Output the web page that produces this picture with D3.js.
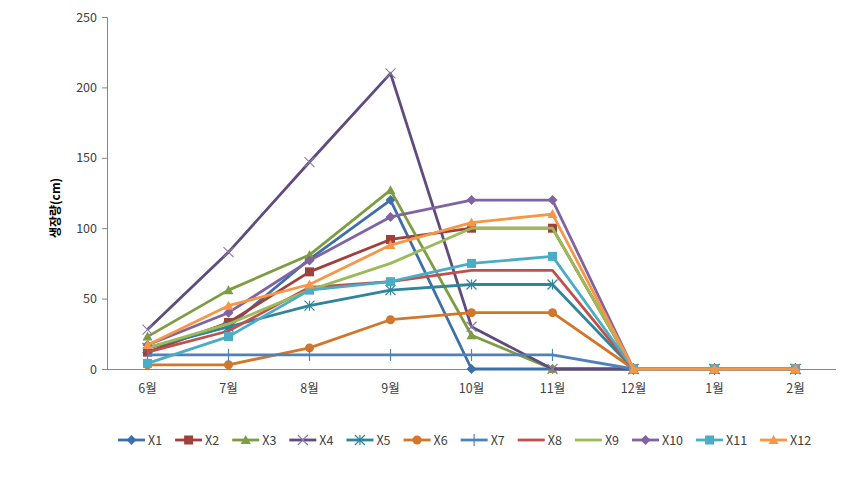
<!DOCTYPE html>
<html><head><meta charset="utf-8">
<script src="https://cdn.jsdelivr.net/npm/d3@7"></script>
<style>
body{margin:0;background:#fff;}
text{font-family:"Noto Sans CJK KR","Malgun Gothic",sans-serif;}
</style></head>
<body><svg id="c" width="866" height="477"></svg>
<script>
const months = ["6월","7월","8월","9월","10월","11월","12월","1월","2월"];
const seriesNames = ["X1","X2","X3","X4","X5","X6","X7","X8","X9","X10","X11","X12"];
const X1  = [15, 30, 78, 120, 0, 0, 0, 0, 0];
const X2  = [12, 33, 69, 92, 100, 100, 0, 0, 0];
const X3  = [23, 56, 81, 127, 24, 0, 0, 0, 0];
const X4  = [28, 83, 147, 210, 30, 0, 0, 0, 0];
const X5  = [15, 30, 45, 56, 60, 60, 0, 0, 0];
const X6  = [3, 3, 15, 35, 40, 40, 0, 0, 0];
const X7  = [10, 10, 10, 10, 10, 10, 0, 0, 0];
const X8  = [12, 27, 58, 62, 70, 70, 0, 0, 0];
const X9  = [15, 32, 56, 75, 100, 100, 0, 0, 0];
const X10 = [17, 40, 77, 108, 120, 120, 0, 0, 0];
const X11 = [4, 23, 56, 62, 75, 80, 0, 0, 0];
const X12 = [17, 45, 60, 88, 104, 110, 0, 0, 0];
const yTicks = [0, 50, 100, 150, 200, 250];
const yTitle = "생장량(cm)";

const allValues = [X1,X2,X3,X4,X5,X6,X7,X8,X9,X10,X11,X12];
const colors = ["#3F6FA8","#A0403C","#7E9D43","#5F4B7E","#2F8599","#D2762B",
                "#4F81BD","#C0504D","#9BBB59","#8064A2","#4BACC6","#F79646"];
const markers = ["diamond","square","triangle","x","asterisk","circle","plus","none","none","diamond","square","triangle"];

const svg = d3.select("#c");
const L = 107, R = 836, T = 17, B = 369;
const x = d3.scaleBand().domain(months).range([L, R]);
const y = d3.scaleLinear().domain([0, 250]).range([B, T]);
const cx = m => x(m) + x.bandwidth()/2;

// y axis
const yAxis = svg.append("g").attr("transform",`translate(${L},0)`)
  .call(d3.axisLeft(y).tickValues(yTicks).tickSize(5).tickPadding(5));
yAxis.select(".domain").attr("stroke","#868686");
yAxis.selectAll(".tick line").attr("stroke","#868686");
yAxis.selectAll(".tick text").attr("font-size",12.5).attr("fill","#404040");

// x axis
const xAxis = svg.append("g").attr("transform",`translate(0,${B})`)
  .call(d3.axisBottom(x).tickSize(0).tickPadding(15));
xAxis.select(".domain").attr("stroke","#868686").attr("d",`M${L},0.5H${R}`);
xAxis.selectAll(".tick text").attr("font-size",12.5).attr("fill","#404040");

// y title
svg.append("text").attr("transform",`translate(60,${(T+B)/2+15}) rotate(-90)`)
  .attr("text-anchor","middle").attr("font-size",12).attr("font-weight","bold").attr("fill","#000")
  .text(yTitle);

function drawMarker(g, type, color, px, py, s){
  if(type==="none") return;
  if(type==="diamond"){
    g.append("path").attr("d",`M${px},${py-s}L${px+s},${py}L${px},${py+s}L${px-s},${py}Z`).attr("fill",color);
  } else if(type==="square"){
    g.append("rect").attr("x",px-s).attr("y",py-s).attr("width",2*s).attr("height",2*s).attr("fill",color);
  } else if(type==="triangle"){
    g.append("path").attr("d",`M${px},${py-s}L${px+s},${py+s*0.8}L${px-s},${py+s*0.8}Z`).attr("fill",color);
  } else if(type==="circle"){
    g.append("circle").attr("cx",px).attr("cy",py).attr("r",s).attr("fill",color);
  } else if(type==="x"){
    g.append("path").attr("d",`M${px-s},${py-s}L${px+s},${py+s}M${px+s},${py-s}L${px-s},${py+s}`).attr("stroke","#8C7AA6").attr("stroke-width",1.1);
  } else if(type==="plus"){
    g.append("path").attr("d",`M${px},${py-s}V${py+s}`).attr("stroke",color).attr("stroke-width",1.2);
  } else if(type==="asterisk"){
    g.append("path").attr("d",`M${px-s},${py-s}L${px+s},${py+s}M${px+s},${py-s}L${px-s},${py+s}M${px},${py-s}V${py+s}`).attr("stroke",color).attr("stroke-width",1.2);
  }
}
const msize = {diamond:5,square:4.5,triangle:5,circle:4.5,x:5,plus:6,asterisk:5,none:0};

const line = d3.line().x((d,i)=>cx(months[i])).y(d=>y(d));
allValues.forEach((vals,k)=>{
  const g = svg.append("g");
  g.append("path").datum(vals).attr("d",line).attr("fill","none")
   .attr("stroke",colors[k]).attr("stroke-width",2.8).attr("stroke-linejoin","round");
  vals.forEach((v,i)=>drawMarker(g, markers[k], colors[k], cx(months[i]), y(v), msize[markers[k]]));
});

// legend
const lg = svg.append("g");
let lx = 118; const ly = 440;
seriesNames.forEach((n,k)=>{
  const g = lg.append("g");
  g.append("line").attr("x1",lx).attr("x2",lx+27).attr("y1",ly).attr("y2",ly)
   .attr("stroke",colors[k]).attr("stroke-width",2.8);
  drawMarker(g, markers[k], colors[k], lx+13.5, ly, msize[markers[k]]);
  const t = g.append("text").attr("x",lx+30).attr("y",ly+4.5).attr("font-size",12.5).attr("fill","#404040").text(n);
  lx += 30 + t.node().getComputedTextLength() + 13;
});
</script></body></html>
